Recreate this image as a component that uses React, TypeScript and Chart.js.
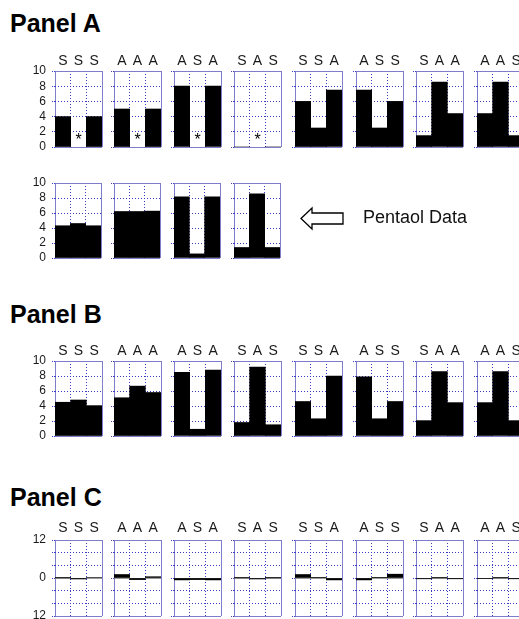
import React, { useEffect, useRef } from 'react';
import { Chart, registerables } from 'chart.js';

Chart.register(...registerables);

const FONT = '"Liberation Sans", Arial, Helvetica, sans-serif';

// ---------- data ----------
const comboLabels = ['SSS', 'AAA', 'ASA', 'SAS', 'SSA', 'ASS', 'SAA', 'AAS'];
const pentaolLabels = ['SSS', 'AAA', 'ASA', 'SAS'];

// Panel A (null = missing value, drawn as "*")
const panelAValues: (number | null)[][] = [
  [4.0, null, 4.0],
  [5.0, null, 5.0],
  [8.0, null, 8.0],
  [0, null, 0],
  [6.0, 2.5, 7.5],
  [7.5, 2.5, 6.0],
  [1.5, 8.55, 4.4],
  [4.4, 8.55, 1.5],
];

// Panel A, second row: Pentaol data
const pentaolValues: number[][] = [
  [4.3, 4.6, 4.3],
  [6.2, 6.2, 6.25],
  [8.15, 0.55, 8.15],
  [1.4, 8.55, 1.4],
];

const panelBValues: number[][] = [
  [4.5, 4.8, 4.05],
  [5.1, 6.65, 5.8],
  [8.5, 0.9, 8.8],
  [1.8, 9.2, 1.5],
  [4.6, 2.3, 8.0],
  [7.9, 2.3, 4.6],
  [2.05, 8.6, 4.45],
  [4.45, 8.6, 2.05],
];

const panelCValues: number[][] = [
  [0.05, -0.3, 0.15],
  [1.1, -0.5, 0.4],
  [-0.6, -0.5, -0.6],
  [0.05, -0.3, 0.05],
  [1.1, 0.1, -0.6],
  [-0.6, 0.1, 1.2],
  [-0.25, 0.05, -0.25],
  [-0.2, 0.05, -0.25],
];

const barAxisTicks = [0, 2, 4, 6, 8, 10];
const diffAxisLabelled = [12, 0, -12];

const panelTitles = ['Panel A', 'Panel B', 'Panel C'];
const pentaolNote = 'Pentaol Data';

// ---------- layout ----------
const COLS = [55, 114, 174, 234, 295, 356, 416, 477];
const AXIS_W = 40;
const TOP_H = 22;
const PAD_R = 4;
const PAD_B = 18;
const EDGE = '#7d7dcc';
const DOT = '#3a3ac4';

type RowCfg = {
  labels: string[];
  values: (number | null)[][];
  top: number;
  height: number;
  width: number;
  showCats: boolean;
  catPad: number;
  yMin: number;
  yMax: number;
  step: number;
  labelled: number[];
  zeroLine: boolean;
};

const rows: RowCfg[] = [
  { labels: comboLabels, values: panelAValues, top: 71, height: 76, width: 47, showCats: true, catPad: 1, yMin: 0, yMax: 10, step: 2, labelled: barAxisTicks, zeroLine: false },
  { labels: pentaolLabels, values: pentaolValues, top: 183, height: 75, width: 46, showCats: false, catPad: 1, yMin: 0, yMax: 10, step: 2, labelled: barAxisTicks, zeroLine: false },
  { labels: comboLabels, values: panelBValues, top: 361, height: 75, width: 47, showCats: true, catPad: 1, yMin: 0, yMax: 10, step: 2, labelled: barAxisTicks, zeroLine: false },
  { labels: comboLabels, values: panelCValues, top: 540, height: 76, width: 47, showCats: true, catPad: 3, yMin: -12, yMax: 12, step: 4, labelled: diffAxisLabelled, zeroLine: true },
];

const starPlugin = {
  id: 'missingStars',
  afterDatasetsDraw(chart: any) {
    const data = chart.data.datasets[0].data as (number | null)[];
    const { ctx, scales } = chart;
    ctx.save();
    ctx.fillStyle = '#000';
    ctx.font = `16px ${FONT}`;
    ctx.textAlign = 'center';
    ctx.textBaseline = 'middle';
    data.forEach((v, i) => {
      if (v === null) {
        const x = scales.x.getPixelForValue(i);
        const y = scales.y.getPixelForValue(scales.y.min);
        ctx.fillText('*', x, y - 6);
      }
    });
    ctx.restore();
  },
};

function SmallBar(props: {
  letters: string[];
  values: (number | null)[];
  left: number;
  cfg: RowCfg;
  showY: boolean;
}) {
  const ref = useRef<HTMLCanvasElement | null>(null);
  const { cfg, letters, values, left, showY } = props;
  const W = AXIS_W + cfg.width + PAD_R;
  const H = TOP_H + cfg.height + PAD_B;

  useEffect(() => {
    if (!ref.current) return;
    const isEdgeX = (c: any) => c.type === 'scale' || c.index === 0 || c.tick === undefined;
    const isEdgeY = (c: any) => c.tick && (c.tick.value === cfg.yMin || c.tick.value === cfg.yMax);
    const isZero = (c: any) => cfg.zeroLine && c.tick && c.tick.value === 0;
    const chart = new Chart(ref.current, {
      type: 'bar',
      data: {
        labels: letters,
        datasets: [
          {
            data: values as any,
            backgroundColor: '#000',
            borderWidth: 0,
            barPercentage: 1,
            categoryPercentage: 1,
          },
        ],
      },
      options: {
        animation: false,
        responsive: false,
        maintainAspectRatio: false,
        events: [],
        layout: { padding: { left: 0, top: 0, right: PAD_R, bottom: PAD_B } },
        plugins: {
          legend: { display: false },
          tooltip: { enabled: false },
          title: { display: false },
        },
        scales: {
          x: {
            position: 'top',
            offset: true,
            grid: {
              offset: true,
              drawTicks: false,
              lineWidth: 1,
              color: (c: any) => (isEdgeX(c) ? EDGE : DOT),
            },
            border: {
              display: false,
              dash: (c: any) => (isEdgeX(c) ? [] : [1, 2]),
            },
            ticks: {
              display: cfg.showCats,
              autoSkip: false,
              maxRotation: 0,
              padding: cfg.catPad,
              color: '#1a1a1a',
              font: { family: FONT, size: 14 },
            },
            afterFit: (s: any) => {
              s.height = TOP_H;
            },
          },
          y: {
            min: cfg.yMin,
            max: cfg.yMax,
            grid: {
              drawTicks: true,
              tickLength: 3,
              lineWidth: 1,
              color: (c: any) => (isEdgeY(c) ? EDGE : isZero(c) ? '#9a9a9a' : DOT),
              tickColor: DOT,
              tickBorderDash: [1, 1],
            },
            border: {
              display: false,
              dash: (c: any) => (isEdgeY(c) || isZero(c) ? [] : [1, 2]),
            },
            ticks: {
              display: showY,
              autoSkip: false,
              stepSize: cfg.step,
              padding: 6,
              color: '#1a1a1a',
              font: { family: FONT, size: 12 },
              callback: (v: any) => (cfg.labelled.includes(Number(v)) ? String(Math.abs(Number(v))) : ''),
            },
            afterFit: (s: any) => {
              s.width = AXIS_W;
            },
          },
        },
      } as any,
      plugins: [starPlugin],
    });
    return () => chart.destroy();
  }, []);

  return (
    <div style={{ position: 'absolute', left: left - AXIS_W, top: cfg.top - TOP_H, width: W, height: H }}>
      <canvas ref={ref} width={W} height={H} style={{ width: W, height: H, display: 'block' }} />
    </div>
  );
}

const titleStyle = (top: number): React.CSSProperties => ({
  position: 'absolute',
  left: 10,
  top,
  fontFamily: FONT,
  fontWeight: 'bold',
  fontSize: 25,
  lineHeight: '25px',
  color: '#000',
  whiteSpace: 'nowrap',
});

export default function App() {
  const titleTops = [11, 302, 485];
  return (
    <div
      style={{
        position: 'fixed',
        left: 0,
        top: 0,
        width: 519,
        height: 619,
        overflow: 'hidden',
        background: '#fff',
      }}
    >
      {panelTitles.map((t, i) => (
        <div key={t} style={titleStyle(titleTops[i])}>
          {t}
        </div>
      ))}
      {rows.map((cfg, r) =>
        cfg.values.map((vals, i) => (
          <SmallBar
            key={`${r}-${i}`}
            letters={cfg.labels[i].split('')}
            values={vals}
            left={COLS[i]}
            cfg={cfg}
            showY={i === 0}
          />
        ))
      )}
      <svg
        width={60}
        height={30}
        style={{ position: 'absolute', left: 295, top: 204 }}
        viewBox="295 204 60 30"
      >
        <polygon
          points="301,218.5 312,208 312,213 343,213 343,224 312,224 312,229"
          fill="#fff"
          stroke="#000"
          strokeWidth={1.3}
          strokeLinejoin="miter"
        />
      </svg>
      <div
        style={{
          position: 'absolute',
          left: 363,
          top: 208,
          fontFamily: FONT,
          fontSize: 18,
          lineHeight: '18px',
          color: '#111',
          whiteSpace: 'nowrap',
        }}
      >
        {pentaolNote}
      </div>
    </div>
  );
}
